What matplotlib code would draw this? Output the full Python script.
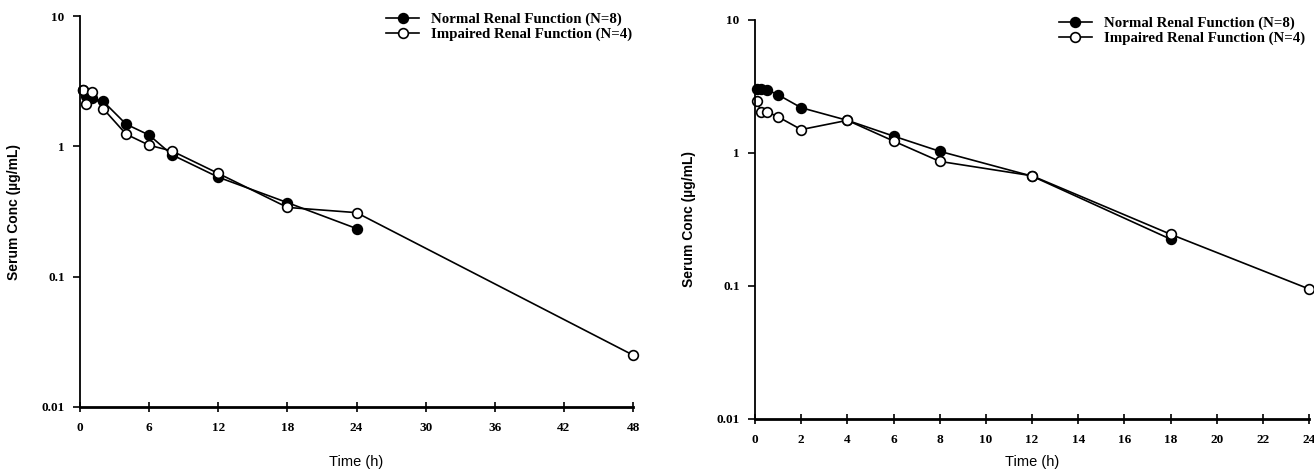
import matplotlib
matplotlib.use("Agg")
import matplotlib.pyplot as plt
import matplotlib.ticker as ticker

# left panel: 0-48 h
t_norm_a = [0.25, 0.5, 1, 2, 4, 6, 8, 12, 18, 24]
c_norm_a = [2.7, 2.45, 2.35, 2.22, 1.48, 1.22, 0.86, 0.58, 0.37, 0.234]
t_imp_a = [0.25, 0.5, 1, 2, 4, 6, 8, 12, 18, 24, 48]
c_imp_a = [2.7, 2.1, 2.62, 1.95, 1.24, 1.02, 0.92, 0.62, 0.34, 0.31, 0.025]

# right panel: 0-24 h
t_norm_b = [0.083, 0.25, 0.5, 1, 2, 4, 6, 8, 12, 18]
c_norm_b = [3.05, 3.05, 3.0, 2.74, 2.19, 1.76, 1.34, 1.03, 0.67, 0.225]
t_imp_b = [0.083, 0.25, 0.5, 1, 2, 4, 6, 8, 12, 18, 24]
c_imp_b = [2.46, 2.05, 2.05, 1.87, 1.50, 1.76, 1.23, 0.865, 0.674, 0.245, 0.095]

lbl_norm = "Normal Renal Function (N=8)"
lbl_imp = "Impaired Renal Function (N=4)"
yticks = [0.01, 0.1, 1, 10]
ytick_labels = ["0.01", "0.1", "1", "10"]
xticks_a = [0, 6, 12, 18, 24, 30, 36, 42, 48]
xticks_b = [0, 2, 4, 6, 8, 10, 12, 14, 16, 18, 20, 22, 24]

fig = plt.figure(figsize=(13.14, 4.75), dpi=100)
ax1 = fig.add_axes([0.0609, 0.1432, 0.4209, 0.823])
ax2 = fig.add_axes([0.5746, 0.1179, 0.4216, 0.84])

serif = "Liberation Serif"
sans = "Liberation Sans"


def draw(ax, tn, cn, ti, ci, xticks, xmax, leg_x, leg_y, xlab_y):
    ax.plot(tn, cn, color="black", lw=1.2, marker="o", ms=7,
            mfc="black", mec="black", mew=1.2, label=lbl_norm, clip_on=False)
    ax.plot(ti, ci, color="black", lw=1.2, marker="o", ms=7,
            mfc="white", mec="black", mew=1.2, label=lbl_imp, clip_on=False)
    ax.set_yscale("log")
    ax.set_ylim(0.01, 10)
    ax.set_xlim(0, xmax)
    ax.set_yticks(yticks)
    ax.set_yticklabels(ytick_labels)
    ax.yaxis.set_minor_locator(ticker.NullLocator())
    ax.set_xticks(xticks)
    ax.set_xticklabels([str(v) for v in xticks])
    for s in ["top", "right"]:
        ax.spines[s].set_visible(False)
    ax.spines["left"].set_linewidth(1.3)
    ax.spines["bottom"].set_linewidth(2.0)
    ax.tick_params(axis="x", direction="inout", length=7, width=1.2, pad=7)
    ax.tick_params(axis="y", direction="out", length=5, width=1.2, pad=6)
    for lab in ax.get_xticklabels() + ax.get_yticklabels():
        lab.set_fontfamily(serif)
        lab.set_fontweight("bold")
        lab.set_fontsize(9.5)
    ax.set_xlabel("Time (h)", fontfamily=sans, fontsize=10.5)
    ax.xaxis.set_label_coords(0.5, xlab_y)
    ax.set_ylabel("Serum Conc (\u00b5g/mL)", fontfamily=sans, fontweight="bold",
                  fontsize=10, labelpad=15)
    leg = ax.legend(loc="upper left", bbox_to_anchor=(leg_x, leg_y), frameon=False,
                    prop={"family": serif, "weight": "bold", "size": 10.7},
                    handlelength=2.2, handletextpad=0.8, labelspacing=0.1,
                    borderpad=0.2, markerscale=1.0)
    return leg


draw(ax1, t_norm_a, c_norm_a, t_imp_a, c_imp_a, xticks_a, 48, 0.535, 1.035, -0.123)
draw(ax2, t_norm_b, c_norm_b, t_imp_b, c_imp_b, xticks_b, 24, 0.53, 1.035, -0.09)

fig.savefig("out.png", dpi=100)
